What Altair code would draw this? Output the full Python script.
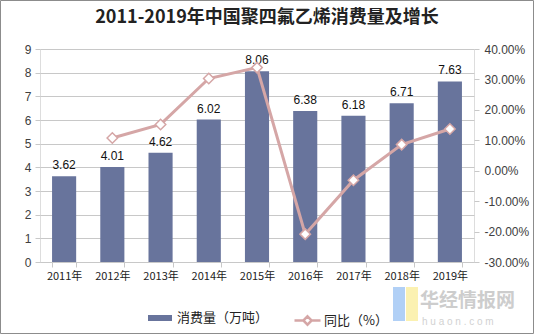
import altair as alt
import pandas as pd

years = ['2011年', '2012年', '2013年', '2014年', '2015年', '2016年', '2017年', '2018年', '2019年']
consumption = [3.62, 4.01, 4.62, 6.02, 8.06, 6.38, 6.18, 6.71, 7.63]
growth = [None, 10.77, 15.21, 30.30, 33.89, -20.84, -3.13, 8.58, 13.71]

bar_name = '消费量（万吨）'
line_name = '同比（%）'
title_text = '2011-2019年中国聚四氟乙烯消费量及增长'

df = pd.DataFrame({'year': years, 'value': consumption, 'growth': growth,
                   'bar': bar_name, 'line': line_name})
df_line = df.dropna(subset=['growth'])

FONT = 'Liberation Sans'
CJK = 'Noto Sans CJK SC'
BAR = '#68749C'
LINE = '#D5A6A6'
GRID = '#C8C8C8'
TXT = '#404040'

x = alt.X('year:N', sort=None, title=None,
          scale=alt.Scale(paddingInner=0.5, paddingOuter=0.25),
          axis=alt.Axis(labelAngle=0, labelFont=CJK, labelFontSize=11, labelColor='#222',
                        domainColor=GRID, tickColor=GRID, tickSize=5, tickBand='extent',
                        labelPadding=3))

yleft = alt.Y('value:Q', title=None,
              scale=alt.Scale(domain=[0, 9], nice=False),
              axis=alt.Axis(values=list(range(10)), grid=True, gridColor=GRID, domain=False,
                            tickColor=GRID, tickSize=5, labelFont=FONT, labelFontSize=12,
                            labelColor=TXT, labelPadding=4))

yline = alt.Y('growth:Q', title=None,
              scale=alt.Scale(domain=[-30, 40], nice=False),
              axis=alt.Axis(orient='right', values=list(range(-30, 41, 10)), grid=False,
                            domain=False, tickColor=GRID, tickSize=5, labelFont=FONT,
                            labelFontSize=12, labelColor=TXT, labelPadding=5,
                            labelExpr="replace(format(datum.value, '.2f'), '\u2212', '-') + '%'"))

base = alt.Chart(df)

bars = base.mark_bar(color=BAR).encode(
    x=x,
    y=yleft,
    fill=alt.Fill('bar:N', scale=alt.Scale(domain=[bar_name], range=[BAR]),
                  legend=alt.Legend(orient='none', legendX=108, legendY=257, title=None,
                                    symbolType='M-1,-0.25H1V0.25H-1Z', symbolSize=576,
                                    symbolStrokeWidth=0, labelFont=CJK, labelFontSize=13,
                                    labelColor='#222', labelOffset=5)),
)

labels = base.mark_text(baseline='bottom', dy=-4, font=FONT, fontSize=12, color='#111').encode(
    x=x,
    y=yleft,
    text=alt.Text('value:Q', format='.2f'),
)

left = alt.layer(bars, labels)

line = alt.Chart(df_line).mark_line(strokeWidth=3).encode(
    x=x,
    y=yline,
    stroke=alt.Stroke('line:N', scale=alt.Scale(domain=[line_name], range=[LINE]),
                      legend=alt.Legend(orient='none', legendX=253, legendY=257, title=None,
                                        symbolType='M-1,0H-0.32M0.32,0H1M0,-0.32L0.32,0L0,0.32L-0.32,0Z',
                                        symbolSize=676, symbolStrokeWidth=2.5,
                                        symbolFillColor='white', labelFont=CJK,
                                        labelFontSize=13, labelColor='#222', labelOffset=2)),
)

points = alt.Chart(df_line).mark_point(shape='diamond', filled=True, fill='white',
                                       stroke=LINE, strokeWidth=1.5, size=110, opacity=1).encode(
    x=x,
    y=yline,
)

right = alt.layer(line, points)

one = pd.DataFrame({'a': [0]})
frame = alt.Chart(one).mark_rect(fill=None, stroke='#8C8C8C', strokeWidth=1).encode(
    x=alt.value(-39.5), x2=alt.value(493.5), y=alt.value(-48.5), y2=alt.value(284.5))

icon_blue = alt.Chart(one).mark_rect(fill='#A9CBF5', opacity=0.9).encode(
    x=alt.value(353), x2=alt.value(365), y=alt.value(238), y2=alt.value(272))
icon_yellow = alt.Chart(one).mark_rect(fill='#FBEFA8', opacity=0.9).encode(
    x=alt.value(366), x2=alt.value(378), y=alt.value(238), y2=alt.value(272))

logo1 = alt.Chart(pd.DataFrame({'t': ['华经情报网']})).mark_text(
    font=CJK, fontSize=19, fontWeight='bold', color='#CDCDCD', align='left', baseline='middle').encode(
    x=alt.value(380), y=alt.value(252), text='t:N')
logo2 = alt.Chart(pd.DataFrame({'t': ['h u a o n . c o m']})).mark_text(
    font=FONT, fontSize=10, color='#D2D2D2', align='left', baseline='middle').encode(
    x=alt.value(382), y=alt.value(273), text='t:N')

chart = alt.layer(left, right, icon_blue, icon_yellow, frame, logo1, logo2).resolve_scale(
    y='independent', fill='independent', stroke='independent'
).properties(
    width=434, height=213,
    padding={'left': 40, 'top': 49, 'right': 61, 'bottom': 73},
    autosize=alt.AutoSizeParams(type='none'),
    title=alt.TitleParams(title_text, font=CJK, fontSize=18, fontWeight='bold', color='#222',
                          anchor='middle', dx=10, offset=-27),
).configure_view(stroke=None).configure(background='white')

chart.save('out.html', embed_options={'renderer': 'svg', 'actions': False})
